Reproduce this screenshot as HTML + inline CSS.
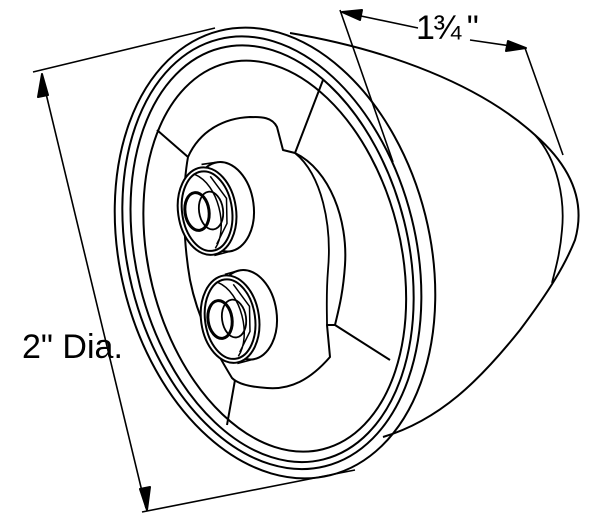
<!DOCTYPE html>
<html><head><style>body{margin:0;background:#fff}svg{display:block}</style></head><body>
<svg width="600" height="525" viewBox="0 0 600 525" xmlns="http://www.w3.org/2000/svg" fill="none" stroke="#000" stroke-width="2" stroke-linejoin="round">
<!-- bullet body -->
<path d="M290,33 C390,50 480,85 535,135 C575,170 585,205 575,240 C565,265 550,290 520,330 C480,380 440,420 383,437"/>
<path d="M535,135 C558,160 565,200 562,230 C560,255 555,270 552,283" stroke-width="1.8"/>
<!-- rim rings -->
<g transform="rotate(-14 275 253)">
<ellipse cx="275" cy="253" rx="155" ry="229"/>
<ellipse cx="272" cy="252" rx="144" ry="220"/>
<ellipse cx="272" cy="253" rx="136" ry="212"/>
<ellipse cx="274" cy="256" rx="126" ry="199"/>
</g>
<!-- spokes -->
<path d="M157,130 L188,157 M323,80 L295,153 M335,325 L390,360 M235,380 L227,425"/>
<!-- hub -->
<path d="M188,157 C200,130 225,118 250,117 C262,117 272,117 277,127 L283,150 L295,153 C330,170 348,220 345,265 C343,295 338,312 335,325 L327,325 L330,357 C310,380 290,390 267,388 C250,387 238,384 232,378 C215,350 198,320 190,280 C183,240 182,190 188,157 Z"/>
<path d="M295,153 C322,175 332,225 328,270 C326,295 327,310 327,325" stroke-width="1.8"/>
<!-- socket 1 -->
<g transform="rotate(-8 215 210)">
<ellipse cx="224" cy="208" rx="30" ry="45"/>
<path d="M208,163 L224,163 M208,255 L224,253" stroke-width="1.6"/>
<ellipse cx="207" cy="210" rx="29" ry="44" fill="#fff"/>
<ellipse cx="207" cy="210" rx="25" ry="40"/>
<path d="M200,172 C222,185 226,230 210,248 M215,176 L228,200 L225,225 L212,244" stroke-width="1.5"/>
<ellipse cx="197" cy="209" rx="12" ry="19" stroke-width="3"/>
<ellipse cx="211" cy="210" rx="12" ry="19" stroke-width="1.8"/>
</g>
<!-- socket 2 -->
<g transform="rotate(-8 238 318)">
<ellipse cx="247" cy="316" rx="30" ry="45"/>
<path d="M231,273 L247,271 M231,363 L247,361" stroke-width="1.6"/>
<ellipse cx="230" cy="318" rx="29" ry="44" fill="#fff"/>
<ellipse cx="230" cy="318" rx="25" ry="40"/>
<path d="M223,280 C245,293 249,338 233,356 M238,284 L251,308 L248,333 L235,352" stroke-width="1.5"/>
<ellipse cx="220" cy="317" rx="12" ry="19" stroke-width="3"/>
<ellipse cx="234" cy="318" rx="12" ry="19" stroke-width="1.8"/>
</g>
<!-- dimension 2" -->
<path d="M33,72 L215,28 M142,512 L355,470" stroke-width="1.6"/>
<path d="M42,77 L146,508" stroke-width="1.6"/>
<path d="M42,74 L38,97 L48,95 Z M147,510 L140,489 L150,487 Z" fill="#000"/>
<!-- dimension 1 3/4 -->
<path d="M340,10 L393,162 M525,48 L563,155" stroke-width="1.6"/>
<path d="M342,12 L418,28 M470,40 L525,48" stroke-width="1.6"/>
<path d="M342,12 L362,10 L360,20 Z M526,48 L506,51 L508,41 Z" fill="#000"/>
</svg>
<div style="position:absolute;left:22px;top:328px;font:34px 'Liberation Sans',sans-serif">2" Dia.</div>
<div style="position:absolute;left:416px;top:10px;font:34px 'Liberation Sans',sans-serif;line-height:36px;letter-spacing:-2px">1¾ <span style="letter-spacing:0">"</span></div>
</body></html>
